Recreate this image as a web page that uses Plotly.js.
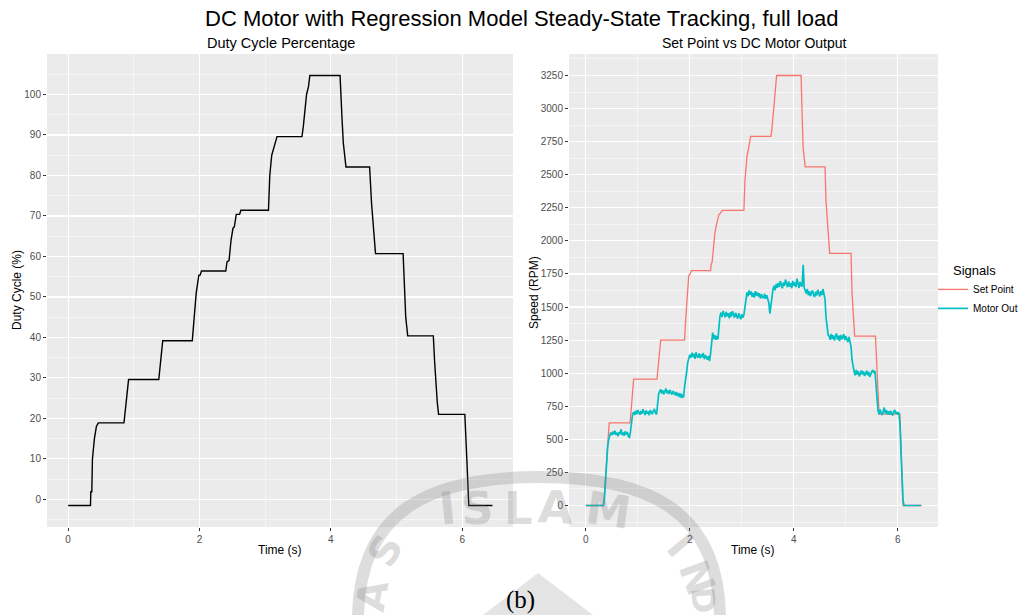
<!DOCTYPE html>
<html>
<head>
<meta charset="utf-8">
<script src="https://cdn.plot.ly/plotly-3.0.1.min.js"></script>
<style>
  html, body { margin: 0; padding: 0; background: #ffffff; }
  #chart { width: 1021px; height: 615px; }
</style>
</head>
<body>
<div id="chart"></div>
<script>
// Duty cycle command (%) over time (s)
const dutyTime = [0, 0.34, 0.345, 0.36, 0.37, 0.40, 0.43, 0.46, 0.85, 0.87, 0.89, 0.92, 1.38, 1.40, 1.44,
  1.89, 1.92, 1.95, 1.99, 2.01, 2.03, 2.40, 2.42, 2.45, 2.48, 2.51, 2.53, 2.56, 2.61, 2.63,
  3.05, 3.07, 3.10, 3.13, 3.16, 3.18, 3.56, 3.58, 3.63, 3.66, 3.68, 4.14, 4.17, 4.19, 4.23,
  4.59, 4.62, 4.64, 4.68, 5.10, 5.12, 5.14, 5.17, 5.56, 5.58, 5.61, 5.62, 5.64, 6.04, 6.07, 6.10, 6.46];
const dutyValue = [-1.5, -1.5, 1.9, 1.9, 10, 15, 18, 18.9, 18.9, 22, 24, 29.6, 29.6, 33, 39.2,
  39.2, 45, 51, 55.4, 55.4, 56.4, 56.4, 58.7, 59, 64, 67, 67.3, 70.4, 70.4, 71.4,
  71.4, 80, 85, 87, 88.5, 89.6, 89.6, 92, 100, 102, 104.7, 104.7, 94, 88, 82.1,
  82.1, 73, 68, 60.7, 60.7, 52, 45, 40.4, 40.4, 34, 25, 24, 21.0, 21.0, 10, -1.5, -1.5];

// Speed set point (RPM)
const setPointTime = [0, 0.34, 0.35, 0.40, 0.45, 0.85, 0.86, 0.92, 1.37, 1.38, 1.44, 1.90, 1.92, 1.98, 2.00, 2.03,
  2.40, 2.41, 2.43, 2.48, 2.50, 2.56, 2.58, 2.63, 3.04, 3.06, 3.10, 3.13, 3.17, 3.56, 3.58, 3.67,
  4.14, 4.16, 4.18, 4.22, 4.60, 4.62, 4.69, 5.10, 5.12, 5.17, 5.57, 5.58, 5.64, 6.04, 6.10, 6.46];
const setPointRPM = [0, 0, 40, 330, 625, 625, 660, 955, 955, 1000, 1250, 1250, 1400, 1740, 1745, 1775,
  1775, 1820, 1840, 2050, 2100, 2200, 2205, 2230, 2230, 2450, 2640, 2700, 2790, 2790, 2850, 3250,
  3250, 2950, 2700, 2560, 2560, 2300, 1905, 1905, 1600, 1280, 1280, 1200, 690, 690, 0, 0];

// Measured motor speed (RPM), logged every 20 ms from t = 0
const motorSampleStep = 0.02;
const motorOutRPM = [
  0, 0, 0, 0, 0, 0, 0, 0, 0, 0, 0, 0, 0, 0, 0, 0, 0, 0,
  60, 200, 340, 440, 500,
  530, 552, 532, 558, 538, 566, 534, 550, 524, 556, 540, 576, 532, 552, 528, 562, 536, 554, 522, 516,
  560, 640, 690,
  706, 684, 716, 690, 722, 698, 686, 714, 692, 728, 700, 684, 718, 694, 710, 682, 720, 698, 690, 714, 730, 700, 688,
  760, 840,
  862, 878, 846, 872, 840, 866, 884, 848, 870, 842, 874, 852, 838, 866, 844, 834, 858, 828, 850, 820, 846, 812, 840, 816,
  900, 980, 1010, 1080,
  1112, 1140, 1116, 1154, 1122, 1146, 1108, 1158, 1126, 1118, 1150, 1112, 1142, 1120, 1152, 1106, 1136, 1114, 1102, 1130, 1092,
  1150, 1260, 1306, 1258, 1288, 1252, 1282, 1256, 1350, 1430,
  1458, 1424, 1470, 1436, 1422, 1464, 1430, 1452, 1414, 1460, 1428, 1468, 1436, 1420, 1456, 1432, 1412, 1452, 1424, 1408, 1446, 1420, 1440,
  1500, 1590,
  1610, 1582, 1626, 1592, 1618, 1578, 1606, 1572, 1620, 1586, 1610, 1580, 1604, 1564, 1596, 1574, 1570, 1600, 1562, 1590, 1556, 1530,
  1450, 1530, 1600,
  1636, 1660, 1626, 1674, 1646, 1682, 1652, 1696, 1658, 1642, 1686, 1660, 1708, 1664, 1650, 1694, 1654, 1680, 1642, 1698, 1660, 1686, 1650, 1714, 1664, 1644, 1690, 1662, 1656,
  1820,
  1646, 1616, 1602, 1636, 1588, 1620, 1582, 1610, 1626, 1592, 1576, 1616, 1586, 1630, 1596, 1580, 1620, 1590, 1636, 1600,
  1560, 1420, 1320, 1290,
  1280, 1252, 1296, 1260, 1286, 1246, 1278, 1300, 1254, 1284, 1242, 1290, 1256, 1276, 1296, 1250, 1282, 1256, 1236, 1274, 1246,
  1200, 1100, 1030,
  1010, 984, 1024, 990, 1016, 976, 1008, 1020, 990, 1014, 980, 1006, 1018, 984, 1010, 972, 1004, 1014, 1024, 1000, 1018,
  900, 760,
  716, 690, 726, 698, 684, 714, 740, 696, 720, 690, 712, 686, 716, 696, 680, 710, 722, 694, 708, 686, 704,
  620, 450, 220, 40,
  0, 0, 0, 0, 0, 0, 0, 0, 0, 0, 0, 0, 0, 0, 0, 0, 0
];
const motorTime = motorOutRPM.map((_, i) => +(i * motorSampleStep).toFixed(3));

// Axis ticks
const timeTicks = [0, 2, 4, 6];
const dutyTicks = [0, 10, 20, 30, 40, 50, 60, 70, 80, 90, 100];
const speedTicks = [0, 250, 500, 750, 1000, 1250, 1500, 1750, 2000, 2250, 2500, 2750, 3000, 3250];

const FONT = 'Liberation Sans, Arial, Helvetica, sans-serif';
const panelBg = '#EBEBEB';
const W = 1021, H = 615;

function axisStyle(extra) {
  return Object.assign({
    showgrid: true, gridcolor: '#FFFFFF', gridwidth: 1.1,
    zeroline: false, showline: false,
    ticks: 'outside', ticklen: 3, tickwidth: 1, tickcolor: '#333333',
    tickfont: { family: FONT, size: 10, color: '#4D4D4D' },
    tickmode: 'array', fixedrange: true
  }, extra);
}

const traces = [
  { x: dutyTime, y: dutyValue, xaxis: 'x', yaxis: 'y', type: 'scatter', mode: 'lines',
    line: { color: '#000000', width: 1.4 }, showlegend: false, hoverinfo: 'skip' },
  { x: setPointTime, y: setPointRPM, xaxis: 'x2', yaxis: 'y2', type: 'scatter', mode: 'lines',
    name: 'Set Point', line: { color: '#F8766D', width: 1.3 } },
  { x: motorTime, y: motorOutRPM, xaxis: 'x2', yaxis: 'y2', type: 'scatter', mode: 'lines',
    name: 'Motor Out', line: { color: '#00BFC4', width: 1.7 } }
];

const yDomain = [0.1431, 0.9122];

// pixel -> paper helpers for the decorations
const px = v => v / W;
const py = v => 1 - v / H;
function pathFromPixels(cmds) {
  return cmds.map(c => c[0] + ' ' + c.slice(1).map((v, i) => (i % 2 === 0 ? px(v) : py(v)).toFixed(5)).join(' ')).join(' ');
}

// faint university emblem printed behind the caption
const wm = 'rgba(120,120,120,0.25)';
function wmLetter(txt, x, y, angle, size) {
  return { text: '<b>' + txt + '</b>', x: px(x), y: py(y), xref: 'paper', yref: 'paper',
    showarrow: false, textangle: angle, xanchor: 'center', yanchor: 'middle',
    font: { family: 'DejaVu Sans, Liberation Sans, sans-serif', size: size || 45, color: wm } };
}

function label(txt, x, y, size, extra) {
  return Object.assign({ text: txt, x: px(x), y: py(y), xref: 'paper', yref: 'paper',
    showarrow: false, xanchor: 'center', yanchor: 'middle',
    font: { family: FONT, size: size, color: '#000000' } }, extra || {});
}

const layout = {
  width: W, height: H,
  margin: { l: 0, r: 0, t: 0, b: 0, autoexpand: false },
  paper_bgcolor: '#FFFFFF',
  plot_bgcolor: panelBg,
  font: { family: FONT },
  xaxis: axisStyle({ domain: [0.046, 0.5024], range: [-0.3225, 6.7725], tickvals: timeTicks,
    anchor: 'y', minor: { tickvals: [1, 3, 5], showgrid: true, gridcolor: '#FFFFFF', gridwidth: 0.5, ticks: '' } }),
  yaxis: axisStyle({ domain: yDomain, range: [-6.81, 110.0], tickvals: dutyTicks, anchor: 'x',
    minor: { tickvals: [-5, 5, 15, 25, 35, 45, 55, 65, 75, 85, 95, 105], showgrid: true, gridcolor: '#FFFFFF', gridwidth: 0.5, ticks: '' } }),
  xaxis2: axisStyle({ domain: [0.5573, 0.9187], range: [-0.3225, 6.7725], tickvals: timeTicks,
    anchor: 'y2', minor: { tickvals: [1, 3, 5], showgrid: true, gridcolor: '#FFFFFF', gridwidth: 0.5, ticks: '' } }),
  yaxis2: axisStyle({ domain: yDomain, range: [-162.5, 3412.5], tickvals: speedTicks, anchor: 'x2',
    minor: { tickvals: [-125, 125, 375, 625, 875, 1125, 1375, 1625, 1875, 2125, 2375, 2625, 2875, 3125, 3375],
      showgrid: true, gridcolor: '#FFFFFF', gridwidth: 0.5, ticks: '' } }),
  legend: {
    x: px(933), y: py(258), xanchor: 'left', yanchor: 'top',
    bgcolor: 'rgba(255,255,255,0)',
    title: { text: '\u00A0\u00A0\u00A0\u00A0\u00A0Signals', font: { family: FONT, size: 13, color: '#000000' } },
    font: { family: FONT, size: 10, color: '#000000' },
    itemwidth: 30, tracegroupgap: 0
  },
  shapes: [
    { type: 'path', xref: 'paper', yref: 'paper', layer: 'above',
      path: pathFromPixels([['M', 358, 620], ['C', 358, 510, 430, 477, 539, 477], ['C', 648, 477, 720, 510, 720, 620]]),
      line: { color: wm, width: 12 } },
    { type: 'path', xref: 'paper', yref: 'paper', layer: 'above',
      path: pathFromPixels([['M', 538, 573], ['L', 483, 615], ['L', 593, 615]]) + ' Z',
      fillcolor: 'rgba(120,120,120,0.2)', line: { width: 0 } }
  ],
  annotations: [
    label('DC Motor with Regression Model Steady-State Tracking, full load', 521, 18, 22),
    label('Duty Cycle Percentage', 281, 43, 14.5),
    label('Set Point vs DC Motor Output', 754, 43, 14),
    label('Time (s)', 280, 550, 12),
    label('Time (s)', 753, 550, 12),
    label('Duty Cycle (%)', 17, 290, 12, { textangle: -90 }),
    label('Speed (RPM)', 534, 293, 12, { textangle: -90 }),
    wmLetter('I', 447, 508, -6),
    wmLetter('S', 477, 508, -3),
    wmLetter('L', 518, 508, 0),
    wmLetter('A', 555, 507, 3),
    wmLetter('M', 608, 510, 8),
    wmLetter('S', 385, 551, -60, 40),
    wmLetter('A', 372, 596, -80, 40),
    wmLetter('I', 680, 545, 50, 40),
    wmLetter('N', 697, 577, 70, 40),
    wmLetter('D', 703, 600, 85, 32),
    { text: '(b)', x: px(520), y: py(600), xref: 'paper', yref: 'paper', showarrow: false,
      xanchor: 'center', yanchor: 'middle',
      font: { family: 'Liberation Serif, Times New Roman, serif', size: 25, color: '#000000' } }
  ]
};

Plotly.newPlot('chart', traces, layout, { displayModeBar: false, staticPlot: true });
</script>
</body>
</html>
